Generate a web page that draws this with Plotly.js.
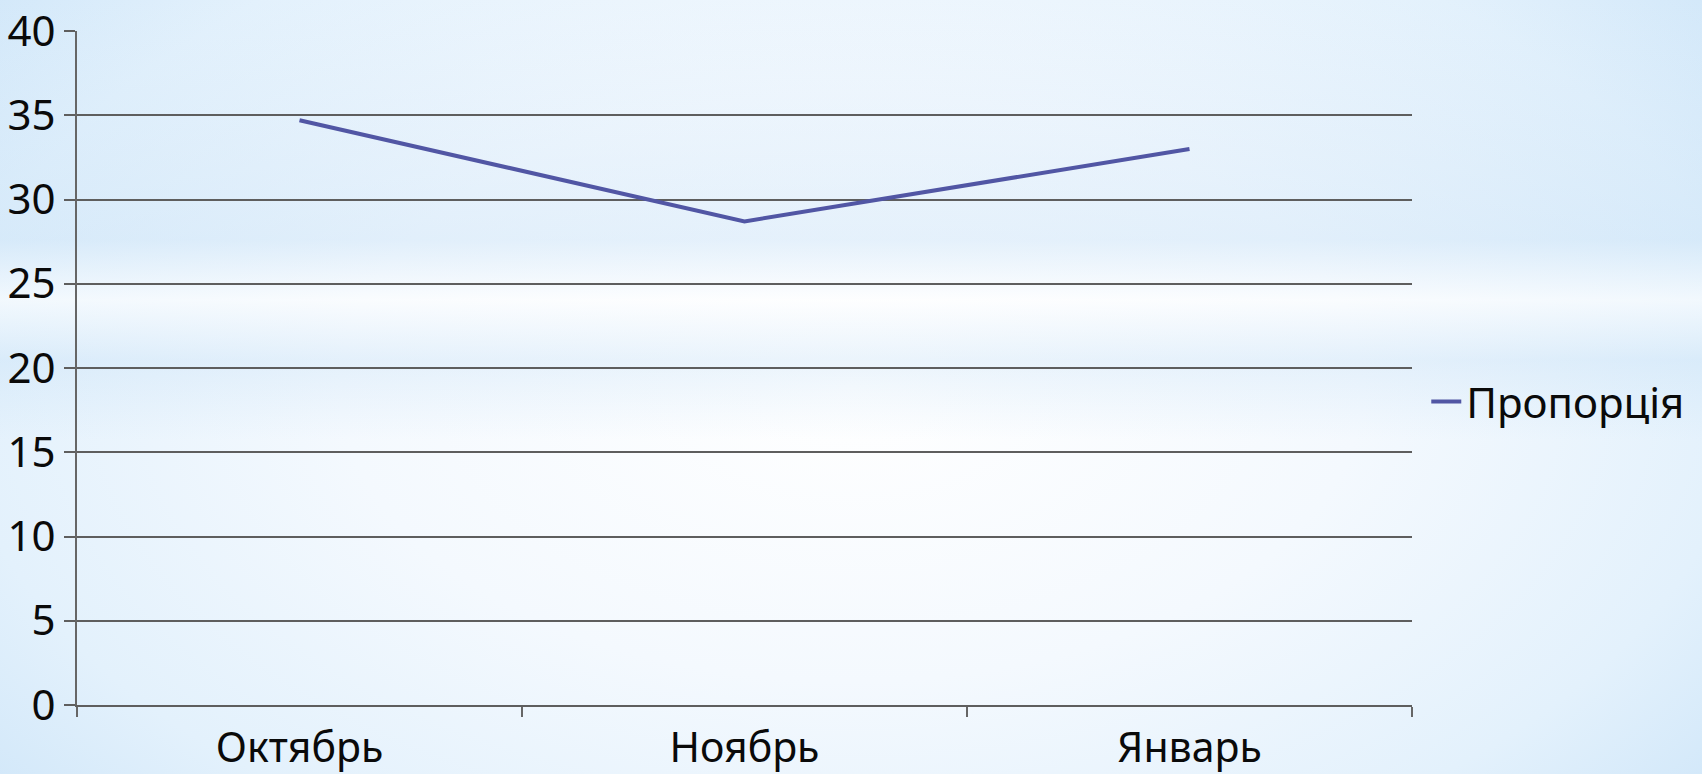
<!DOCTYPE html>
<html>
<head>
<meta charset="utf-8">
<script src="https://cdn.plot.ly/plotly-3.0.1.min.js"></script>
<style>
  html, body { margin: 0; padding: 0; width: 1702px; height: 774px; overflow: hidden; }
  body {
    background:
      linear-gradient(to bottom, rgba(255,255,255,0) 0px, rgba(190,220,245,0.35) 240px, rgba(255,255,255,0.5) 300px, rgba(190,220,245,0.3) 360px, rgba(255,255,255,0) 440px),
      radial-gradient(ellipse 75% 95% at 50% 50%, #ffffff 0%, #f4f9fe 40%, #e3f1fc 70%, #c4e0f7 100%);
  }
  #chart { width: 1702px; height: 774px; }
</style>
</head>
<body>
<div id="chart"></div>
<script>
const categories = ["Октябрь", "Ноябрь", "Январь"];
const seriesName = "Пропорція";
const seriesValues = [34.7, 28.7, 33.0];
const yTickValues = [0, 5, 10, 15, 20, 25, 30, 35, 40];

const fontFamily = "'Noto Sans', 'Open Sans', sans-serif";

const trace = {
  type: "scatter",
  mode: "lines",
  x: categories,
  y: seriesValues,
  name: seriesName,
  line: { color: "#5156a4", width: 4 },
  showlegend: true
};

const layout = {
  width: 1702,
  height: 774,
  paper_bgcolor: "rgba(0,0,0,0)",
  plot_bgcolor: "rgba(0,0,0,0)",
  margin: { l: 77, r: 290, t: 31, b: 69, autoexpand: false },
  font: { family: fontFamily, size: 42, color: "#0a0a0a" },
  xaxis: {
    type: "category",
    range: [-0.5, categories.length - 0.5],
    tickson: "boundaries",
    ticks: "outside",
    ticklen: 10,
    tickwidth: 2,
    tickcolor: "#666666",
    showline: true,
    linecolor: "#5e5e5e",
    linewidth: 2,
    showgrid: false,
    zeroline: false,
    tickfont: { family: fontFamily, size: 41, color: "#0a0a0a" },
    ticklabelstandoff: 6,
    fixedrange: true
  },
  yaxis: {
    range: [0, 40],
    tickvals: yTickValues,
    ticktext: yTickValues.map(String),
    ticks: "outside",
    ticklen: 11,
    tickwidth: 2,
    tickcolor: "#5e5e5e",
    showline: true,
    linecolor: "#666666",
    linewidth: 2,
    showgrid: true,
    gridcolor: "#5e5e5e",
    gridwidth: 2,
    zeroline: false,
    tickfont: { family: fontFamily, size: 42, color: "#0a0a0a" },
    ticklabelstandoff: 0,
    fixedrange: true
  },
  showlegend: true,
  legend: {
    xref: "container",
    x: 0.838,
    xanchor: "left",
    y: 0.45,
    yanchor: "middle",
    bgcolor: "rgba(0,0,0,0)",
    itemwidth: 30,
    font: { family: fontFamily, size: 42, color: "#0a0a0a" }
  }
};

Plotly.newPlot("chart", [trace], layout, { displayModeBar: false, staticPlot: true });
</script>
</body>
</html>
